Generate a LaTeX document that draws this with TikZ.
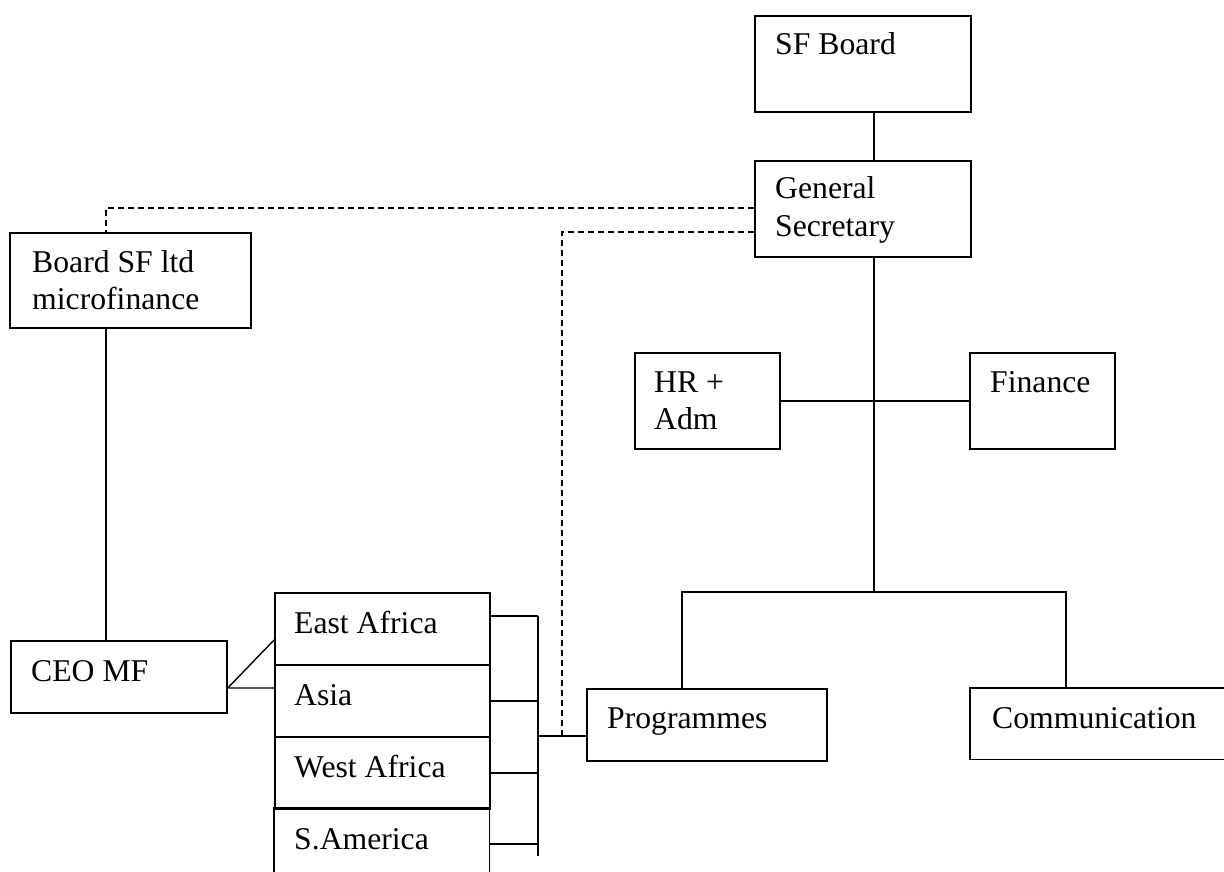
\documentclass[tikz,border=0pt]{standalone}
\usepackage{fontspec}
\setmainfont{Liberation Serif}
\usetikzlibrary{calc}
\newcommand\twolines[2]{\vtop{\baselineskip=37pt\hbox{#1}\hbox{#2}}}
\begin{document}
\begin{tikzpicture}[x=1pt,y=-1pt,
  box/.style={draw, line width=1.8pt, inner sep=0pt, anchor=north west},
  openbox/.style={inner sep=0pt, anchor=north west},
  boxline/.style={line width=1.8pt},
  lbl/.style={anchor=base west, inner sep=0pt, font=\fontsize{31.7}{37}\selectfont},
  conn/.style={line width=1.4pt},
  dconn/.style={line width=1.4pt, dash pattern=on 6pt off 4pt}]
\useasboundingbox (0,0) rectangle (1224,872);

% boxes
\node[box, minimum width=216pt, minimum height=96pt] (sfb)  at (754,15)  {};
\node[box, minimum width=216pt, minimum height=96pt] (gs)   at (754,160) {};
\node[box, minimum width=241pt, minimum height=95pt] (bsf)  at (9,232)   {};
\node[box, minimum width=145pt, minimum height=96pt] (hr)   at (634,352) {};
\node[box, minimum width=145pt, minimum height=96pt] (fin)  at (969,352) {};
\node[box, minimum width=216pt, minimum height=72pt] (ceo)  at (10,640)  {};
\node[box, minimum width=215pt, minimum height=72pt] (ea)   at (274,592) {};
\node[box, minimum width=215pt, minimum height=72pt] (asia) at (274,664) {};
\node[box, minimum width=215pt, minimum height=72pt] (wa)   at (274,736) {};
\node[openbox, minimum width=215pt, minimum height=64pt] (sa) at (274,808) {};
\draw[boxline] (sa.south west) -- (sa.north west) -- (sa.north east) -- (sa.south east);
\node[box, minimum width=240pt, minimum height=72pt] (prog) at (586,688) {};
\node[openbox, minimum width=254pt, minimum height=71pt] (comm) at (970,688) {};
\draw[boxline] (comm.north east) -- (comm.north west) -- (comm.south west) -- (comm.south east);

% texts
\node[lbl] (tsfb)  at ($(sfb.north west)+(21,40)$)  {SF Board};
\node[lbl] (tgs)   at ($(gs.north west)+(21,39)$)   {\twolines{General}{Secretary}};
\node[lbl] (tbsf)  at ($(bsf.north west)+(23,40)$)  {\twolines{Board SF ltd}{microfinance}};
\node[lbl] (thr)   at ($(hr.north west)+(20,40)$)   {\twolines{HR +}{Adm}};
\node[lbl] (tfin)  at ($(fin.north west)+(21,40)$)  {Finance};
\node[lbl] (tceo)  at ($(ceo.north west)+(21,41)$)  {CEO MF};
\node[lbl] (tea)   at ($(ea.north west)+(20,41)$)   {East Africa};
\node[lbl] (tasia) at ($(asia.north west)+(20,41)$) {Asia};
\node[lbl] (twa)   at ($(wa.north west)+(20,41)$)   {West Africa};
\node[lbl] (tsa)   at ($(sa.north west)+(20,41)$)   {S.America};
\node[lbl] (tprog) at ($(prog.north west)+(21,40)$) {Programmes};
\node[lbl] (tcomm) at ($(comm.north west)+(22,40)$) {Communication};

% junction coordinates
\coordinate (j1) at (874,400);
\coordinate (j2) at (874,592);
\coordinate (pl) at (682,592);
\coordinate (cr) at (1066,592);
\coordinate (d1) at (106,208);
\coordinate (d2) at (562,232);
\coordinate (pj) at (538,736);
\coordinate (v1) at (106,400);
\coordinate (cy) at (0,688);
\coordinate (cdiag) at (274,640);
\coordinate (bt) at (538,616);
\coordinate (bb) at (538,856);
\coordinate (sat) at (538,844);

% solid connectors
\draw[conn] (sfb.south -| j1) -- (gs.north -| j1);
\draw[conn] (gs.south -| j1) -- (j2);
\draw[conn] (hr.east) -- (fin.west);
\draw[conn] (pl |- prog.north) -- (pl) -- (cr) -- (cr |- comm.north);
\draw[conn] (bsf.south -| v1) -- (ceo.north -| v1);
\draw[conn] (cdiag) -- (ceo.east |- cy) -- (asia.west |- cy);
\draw[conn] (bt) -- (bb);
\draw[conn] (ea.east |- bt) -- (bt);
\draw[conn] (asia.east) -- (asia.east -| bt);
\draw[conn] (wa.east) -- (wa.east -| bt);
\draw[conn] (sa.east |- sat) -- (sat);
\draw[conn] (pj) -- (pj -| prog.west);

% dashed connectors
\draw[dconn] (gs.west |- d1) -- (d1) -- (d1 |- bsf.north);
\draw[dconn] (gs.west |- d2) -- (d2) -- (d2 |- pj);
\end{tikzpicture}
\end{document}
